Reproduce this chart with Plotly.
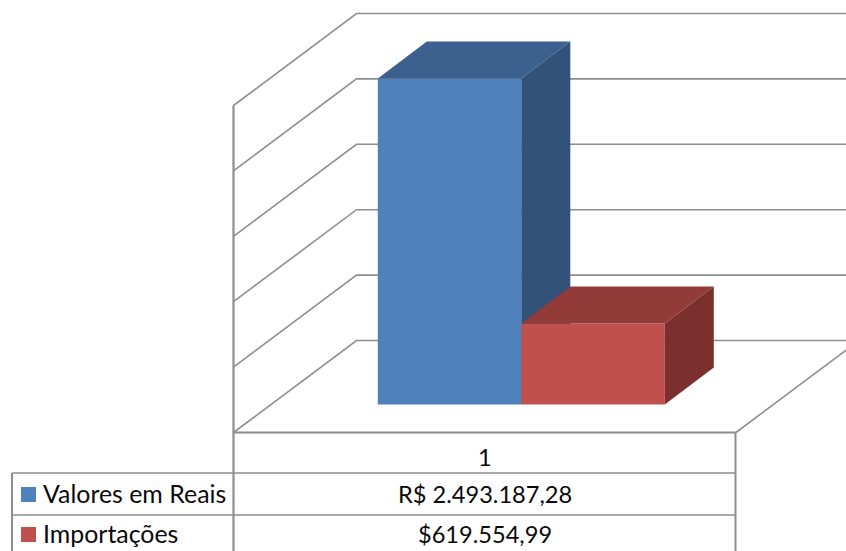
import plotly.graph_objects as go

# Chart data
series_names = ["Valores em Reais", "Importações"]
series_values = [2493187.28, 619554.99]
value_labels = ["R$ 2.493.187,28", "$619.554,99"]
category_labels = ["1"]
gridline_values = [0, 500000, 1000000, 1500000, 2000000, 2500000]

# Face colours of each 3D column: front, top, side
front_colors = ["#4F81BD", "#C0504D"]
top_colors = ["#3D618E", "#923B39"]
side_colors = ["#325279", "#7B302E"]
LINE = "#8E8E8E"
TEXT = "#0A0A0A"
FONT = "Lato"

W, H = 846, 551

# Scale: one x unit is a column width, y is expressed in the chart's value units
PX_X = 143.5
PX_Y = 65.4 / 500000
X0_PX = 377.8
Y0_PX = 404.5


def ux(px):
    return px / PX_X


def uy(px):
    return px / PX_Y


x_range = [ux(-X0_PX), ux(W - X0_PX)]
y_range = [uy(Y0_PX - H), uy(Y0_PX)]

# Oblique projection offsets
bar_dx, bar_dy = ux(49), uy(37)
wall_dx, wall_dy = ux(123), uy(92)
wall_x = ux(233.5 - X0_PX)
wall_right = ux(736 - X0_PX)
floor_y = uy(404.5 - 432.5)

fig = go.Figure()


def line_trace(xs, ys, width=1.6):
    fig.add_trace(go.Scatter(x=xs, y=ys, mode="lines", hoverinfo="skip", showlegend=False,
                             line=dict(color=LINE, width=width)))


# Wall and floor gridlines behind the columns
for v in gridline_values:
    line_trace([wall_x, wall_x + wall_dx, x_range[1]],
               [floor_y + v, floor_y + v + wall_dy, floor_y + v + wall_dy])
line_trace([wall_x, wall_x], [floor_y + gridline_values[-1], y_range[0]], 2.2)
line_trace([wall_x, wall_right], [floor_y, floor_y], 2)
line_trace([wall_right, wall_right + wall_dx], [floor_y, floor_y + wall_dy])

# Columns: each series sits on its own overlaying axes so it paints above the
# gridlines and above the previous column. Front face is a bar, top and side
# faces are projected from the same value.
for i, (name, value) in enumerate(zip(series_names, series_values)):
    left, right = i, i + 1
    xa, ya = f"x{i + 2}", f"y{i + 2}"
    fig.add_trace(go.Bar(x=[i + 0.5], y=[value], width=1, name=name, showlegend=False,
                         xaxis=xa, yaxis=ya,
                         marker=dict(color=front_colors[i], line=dict(width=0))))
    fig.add_trace(go.Scatter(
        x=[left, right, right + bar_dx, left + bar_dx, left],
        y=[value, value, value + bar_dy, value + bar_dy, value],
        xaxis=xa, yaxis=ya,
        fill="toself", fillcolor=top_colors[i], mode="none", showlegend=False, hoverinfo="skip"))
    fig.add_trace(go.Scatter(
        x=[right, right + bar_dx, right + bar_dx, right, right],
        y=[0, bar_dy, value + bar_dy, value, 0],
        xaxis=xa, yaxis=ya,
        fill="toself", fillcolor=side_colors[i], mode="none", showlegend=False, hoverinfo="skip"))


# Data table under the plot, laid out in page fractions
def fx(px):
    return px / W


def fy(px):
    return 1 - px / H


def table_line(x0, y0, x1, y1, width=1.6):
    fig.add_shape(type="line", xref="paper", yref="paper", x0=fx(x0), y0=fy(y0), x1=fx(x1), y1=fy(y1),
                  line=dict(color=LINE, width=width))


TABLE_LEFT, TABLE_MID, TABLE_RIGHT = 12, 233.5, 735.5
ROW_TOPS = [473, 515]
ROW_CENTERS = [495, 535]
for y in ROW_TOPS:
    table_line(TABLE_LEFT, y, TABLE_RIGHT, y)
table_line(TABLE_LEFT, ROW_TOPS[0], TABLE_LEFT, H, 2)
table_line(TABLE_RIGHT, 432, TABLE_RIGHT, H, 2)

CENTER = (TABLE_MID + TABLE_RIGHT) / 2 + 0.7


def label(px, py, text, anchor="center", size=23.6):
    fig.add_annotation(xref="paper", yref="paper", x=fx(px), y=fy(py), text=text, showarrow=False,
                       xanchor=anchor, yanchor="middle", align=anchor,
                       font=dict(family=FONT, size=size, color=TEXT))


label(CENTER, 457, category_labels[0])
for i, name in enumerate(series_names):
    cy = ROW_CENTERS[i]
    fig.add_shape(type="rect", xref="paper", yref="paper",
                  x0=fx(21), x1=fx(36), y0=fy(cy - 1 + 8), y1=fy(cy - 1 - 7),
                  fillcolor=front_colors[i], line=dict(width=0))
    label(40.5, cy - 2, name, "left", 24.9)
    label(CENTER, cy - 1, value_labels[i])

hidden = dict(range=x_range, visible=False, fixedrange=True)
hidden_y = dict(range=y_range, visible=False, fixedrange=True)
fig.update_layout(
    width=W, height=H, margin=dict(l=0, r=0, t=0, b=0),
    paper_bgcolor="white", plot_bgcolor="white", barmode="overlay", showlegend=False,
    xaxis=hidden, yaxis=hidden_y,
    xaxis2=dict(hidden, overlaying="x", anchor="y2"),
    yaxis2=dict(hidden_y, overlaying="y", anchor="x2"),
    xaxis3=dict(hidden, overlaying="x", anchor="y3"),
    yaxis3=dict(hidden_y, overlaying="y", anchor="x3"),
)

fig.write_html("out.html", config=dict(displayModeBar=False))
